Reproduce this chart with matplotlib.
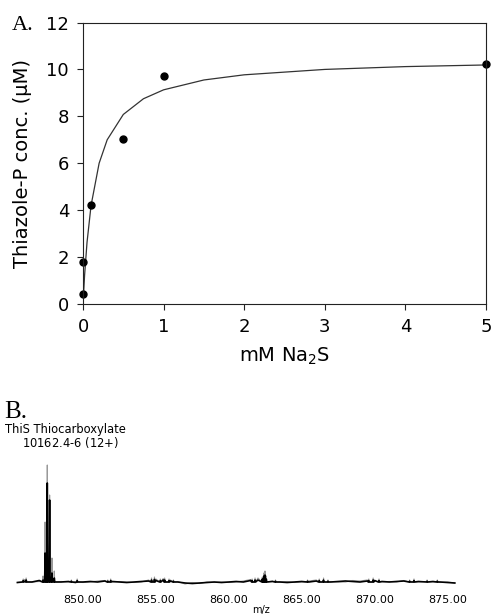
import numpy as np
import matplotlib.pyplot as plt

plt.rcParams['font.family'] = 'DejaVu Sans'
plt.rcParams['mathtext.fontset'] = 'custom'
plt.rcParams['mathtext.rm'] = 'DejaVu Sans'
plt.rcParams['mathtext.it'] = 'DejaVu Sans:italic'

# panel A: thiazole-P vs Na2S
na2s = [0, 0, 0.1, 0.5, 1, 5]
thiazole = [0.41, 1.8, 4.2, 7.04, 9.72, 10.25]
fit_x = [0, 0.02, 0.05, 0.1, 0.2, 0.3, 0.5, 0.75, 1, 1.5, 2, 3, 4, 5]
fit_y = [0, 1.24, 2.63, 4.2, 6.0, 7.0, 8.08, 8.75, 9.13, 9.55, 9.77, 10.0, 10.12, 10.19]

# panel B: ESI spectrum (baseline every 0.5 m/z + isotope spikes + small noise spikes)
base_start = 845.5
black_base = [0.5, 1.5, 1.0, 2.5, 1.5, 2.0, 1.0, 1.5, 0.5, 1.0, 1.5, 1.0, 2.0, 1.5, 1.0,
              0.5, 1.0, 1.5, 2.0, 2.5, 3.0, 2.0, 1.0, 0.0, -0.5, 0.0, 0.5, 1.0, 0.5, 1.0,
              1.5, 1.0, 2.5, 3.0, 2.0, 1.5, 1.0, 0.5, 1.0, 1.5, 1.0, 2.0, 1.5, 1.0, 1.5,
              2.0, 1.5, 1.0, 2.0, 2.5, 1.5, 1.0, 1.5, 2.0, 1.0, 1.5, 1.0, 1.5, 1.0, 0.5, 0.0]
gray_base = [0.5, 3.5, 1.0, 1.5, 1.0, 3.0, 1.5, 1.0, 1.5, 0.5, 1.0, 2.0, 2.5, 1.0, 1.5,
             1.0, 0.5, 1.0, 3.0, 4.0, 4.5, 3.0, 1.5, -1.0, 0.5, -0.5, 1.0, 0.5, 1.0, 0.5,
             1.0, 2.0, 3.5, 5.0, 2.0, 2.0, 1.0, 1.5, 0.5, 1.0, 2.0, 3.0, 1.0, 1.5, 1.0,
             1.0, 2.5, 2.0, 3.0, 2.0, 1.0, 1.5, 1.0, 2.5, 1.5, 1.0, 1.5, 1.0, 0.5, 1.0, 0.0]
peak_mz = [847.26, 847.40, 847.55, 847.71, 847.87, 848.03, 862.30, 862.40, 862.48, 862.57]
gray_peak = [7, 61, 118, 88, 25, 12, 6, 10, 12, 7]
black_peak = [3, 30, 100, 83, 10, 5, 4, 7, 8, 4]
grass_mz = [845.9, 846.1, 849.2, 849.6, 851.7, 851.9, 854.7, 854.9, 855.3, 855.6, 855.9,
            856.2, 861.6, 861.8, 863.2, 865.4, 866.2, 866.5, 866.8, 869.6, 869.9, 870.3,
            872.4, 872.7, 873.6, 874.3]
grass_h = [4, 5, 3, 4, 3, 4, 5, 6, 4, 5, 4, 3, 4, 5, 3, 3, 4, 5, 3, 4, 5, 4, 3, 4, 3, 3]


def trace(base, peaks, scale):
    mz = list(base_start + 0.5 * np.arange(len(base)))
    val = list(base)
    for m, h in zip(peak_mz, peaks):
        mz += [m - 0.03, m, m + 0.03]
        val += [1, h, 1]
    for m, h in zip(grass_mz, grass_h):
        mz += [m - 0.04, m, m + 0.04]
        val += [1, h * scale, 1]
    order = np.argsort(mz)
    return np.array(mz)[order], np.array(val)[order]


fig = plt.figure(figsize=(4.94, 6.14), dpi=100)

ax = fig.add_axes([83/494, 1 - 304/614, 403/494, 281.5/614])
ax.plot(fit_x, fit_y, color='#333333', lw=0.9)
ax.plot(na2s, thiazole, 'o', color='black', ms=5, clip_on=False)
ax.set_xlim(0, 5)
ax.set_ylim(0, 12)
ax.set_yticks(range(0, 13, 2))
ax.set_xticks(range(0, 6))
for s in ax.spines.values():
    s.set_linewidth(0.8)
    s.set_color('#222222')
ax.tick_params(labelsize=13, length=4, width=0.8, direction='out', color='#222222')
ax.tick_params(axis='x', pad=6)
ax.tick_params(axis='y', pad=6)
ax.set_xlabel(r'mM Na$_2$S', fontsize=14, labelpad=7)
ax.set_ylabel('Thiazole-P conc. (μM)', fontsize=14, labelpad=10)
fig.text(12/494, 1 - 30/614, 'A.', family='Liberation Serif', fontsize=16, va='baseline')

bx = fig.add_axes([10.1/494, 1 - 588/614, 452/494, 133/614])
gx, gy = trace(gray_base, gray_peak, 1.0)
kx, ky = trace(black_base, black_peak, 0.6)
bx.plot(gx, gy, color='#999999', lw=0.8)
bx.plot(kx, ky, color='black', lw=1.2)
bx.set_xlim(845, 876)
bx.set_ylim(-5, 128)
bx.set_xticks([850, 855, 860, 865, 870, 875])
bx.set_xticklabels(['850.00', '855.00', '860.00', '865.00', '870.00', '875.00'])
bx.set_yticks([])
for s in bx.spines.values():
    s.set_visible(False)
bx.tick_params(axis='x', length=0, labelsize=8, pad=5)
fig.text(4/494, 1 - 418/614, 'B.', family='Liberation Serif', fontsize=18, va='baseline')
fig.text(65/494, 1 - 429/614, 'ThiS Thiocarboxylate', fontsize=8.3, ha='center', va='center')
fig.text(70/494, 1 - 443/614, r'10162.4-$\it{6}$ (12+)', fontsize=8.3, ha='center', va='center')
fig.text(261/494, 1 - 610/614, 'm/z', fontsize=7, ha='center', va='center')

fig.savefig('out.png', dpi=100)
